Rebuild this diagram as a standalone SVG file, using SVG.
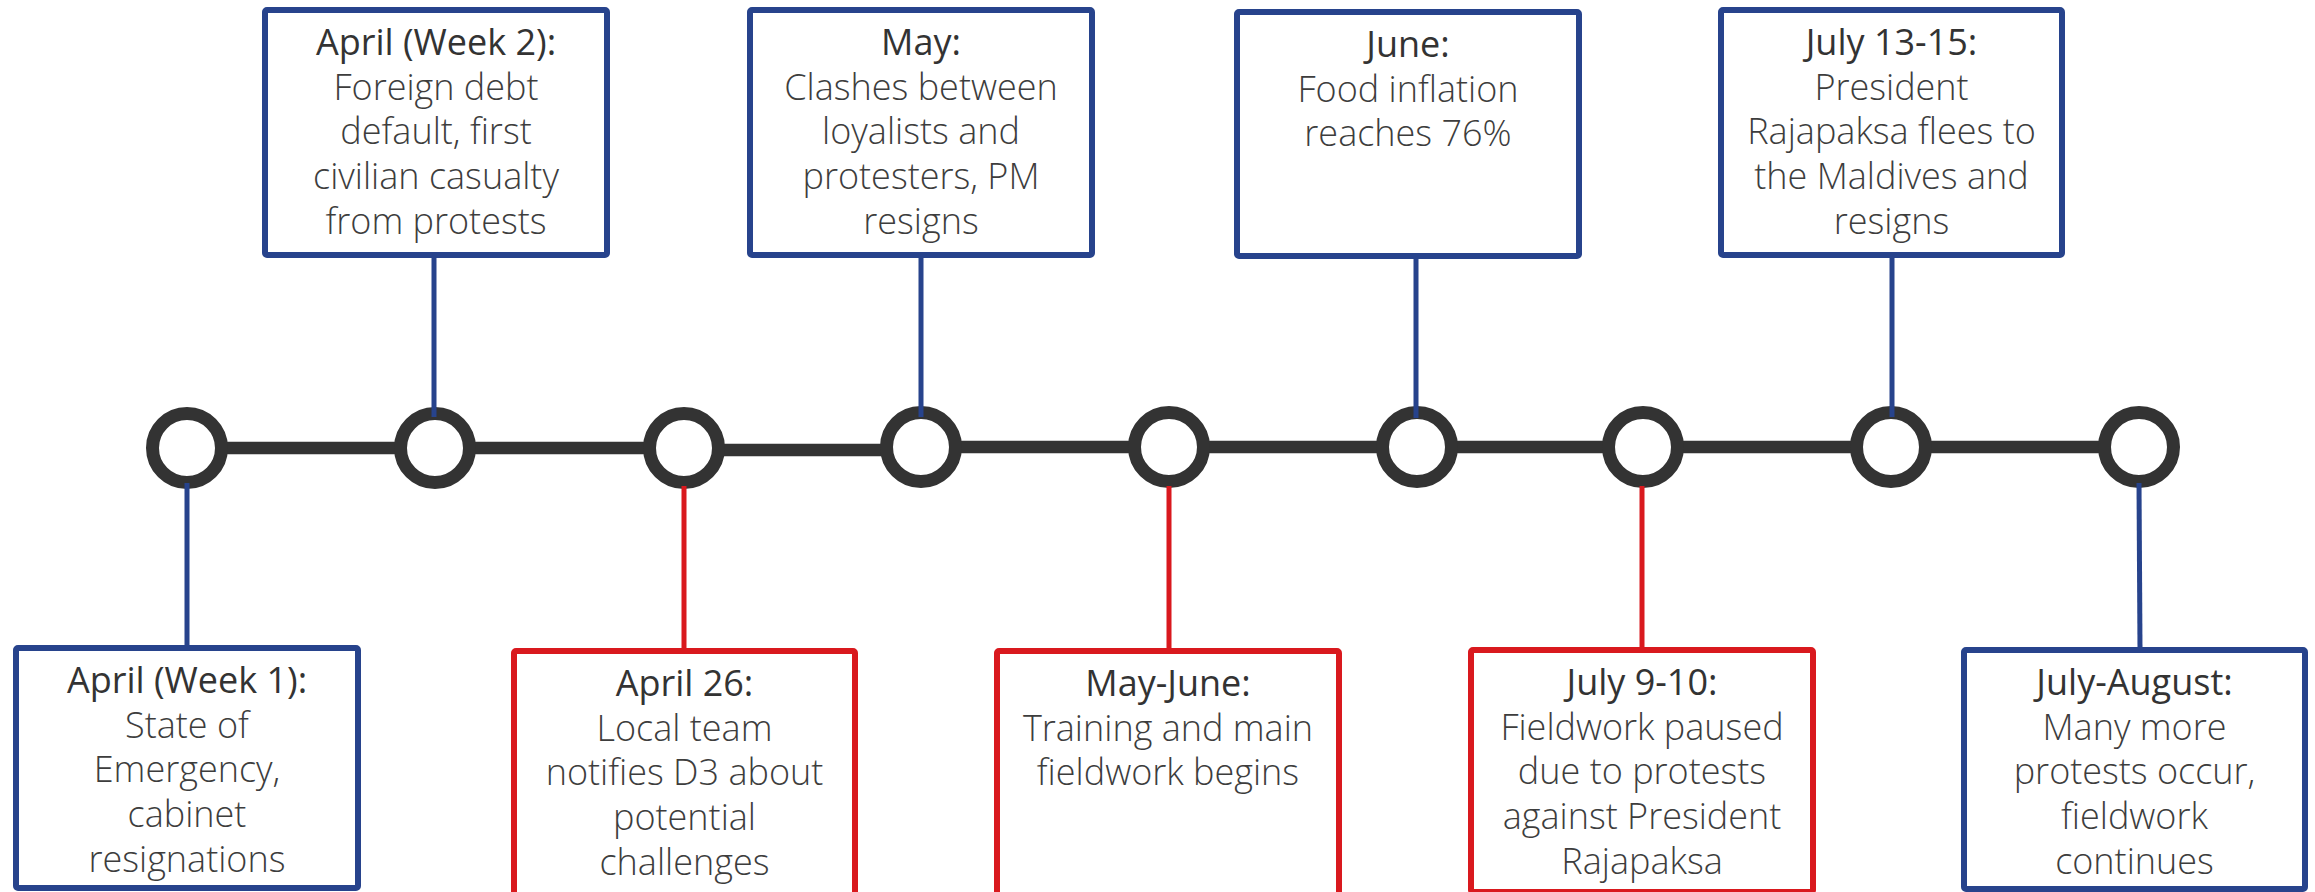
<svg xmlns="http://www.w3.org/2000/svg" width="2315" height="892" viewBox="0 0 2315 892">
<style>
.bg{fill:#ffffff}
.box{fill:#ffffff;stroke-width:6;stroke-linejoin:round}
.blue{stroke:#27438c}
.red{stroke:#d9191e}
.conn{fill:none;stroke-width:5}
.track{stroke:#333333;stroke-width:12.5;fill:none}
.dot{fill:#ffffff;stroke:#333333;stroke-width:13}
text{font-family:"Open Sans","Liberation Sans",sans-serif;font-size:36px;text-anchor:middle;fill:#3d3d3d;font-weight:300}
.t{fill:#333333;font-weight:400}
</style>
<rect class="bg" x="0" y="0" width="2315" height="892"/>

<g id="timeline">
<line class="track" x1="187" y1="448" x2="435" y2="448"/>
<line class="track" x1="435" y1="448" x2="684" y2="448"/>
<line class="track" x1="684" y1="450" x2="921" y2="450"/>
<line class="track" x1="921" y1="447" x2="2139" y2="447"/>
<circle class="dot" cx="187" cy="448" r="34.5"/>
<circle class="dot" cx="435" cy="448" r="34.5"/>
<circle class="dot" cx="684" cy="448" r="34.5"/>
<circle class="dot" cx="921" cy="447" r="34.5"/>
<circle class="dot" cx="1169" cy="447" r="34.5"/>
<circle class="dot" cx="1417" cy="447" r="34.5"/>
<circle class="dot" cx="1643" cy="447" r="34.5"/>
<circle class="dot" cx="1891" cy="447" r="34.5"/>
<circle class="dot" cx="2139" cy="447" r="34.5"/>
</g>

<g id="connectors">
<line class="conn blue" x1="187" y1="483" x2="187" y2="646"/>
<line class="conn blue" x1="434" y1="257" x2="434" y2="417"/>
<line class="conn red" x1="684" y1="486" x2="684" y2="649"/>
<line class="conn blue" x1="921" y1="257" x2="921" y2="417"/>
<line class="conn red" x1="1169" y1="486" x2="1169" y2="649"/>
<line class="conn blue" x1="1416" y1="258" x2="1416" y2="418"/>
<line class="conn red" x1="1642" y1="486" x2="1642" y2="648"/>
<line class="conn blue" x1="1892" y1="257" x2="1892" y2="417"/>
<line class="conn blue" x1="2139" y1="483" x2="2140" y2="648"/>
</g>

<g id="node-april-week1">
<rect class="box blue" x="16" y="648" width="342" height="240" rx="2"/>
<text x="187" y="693"><tspan class="t">April (Week 1):</tspan><tspan x="187" dy="44.7">State of</tspan><tspan x="187" dy="44.7">Emergency,</tspan><tspan x="187" dy="44.7">cabinet</tspan><tspan x="187" dy="44.7">resignations</tspan></text>
</g>

<g id="node-april-week2">
<rect class="box blue" x="265" y="10" width="342" height="245" rx="2"/>
<text x="436" y="55"><tspan class="t">April (Week 2):</tspan><tspan x="436" dy="44.7">Foreign debt</tspan><tspan x="436" dy="44.7">default, first</tspan><tspan x="436" dy="44.7">civilian casualty</tspan><tspan x="436" dy="44.7">from protests</tspan></text>
</g>

<g id="node-april-26">
<rect class="box red" x="514" y="651" width="341" height="270" rx="2"/>
<text x="684.5" y="696"><tspan class="t">April 26:</tspan><tspan x="684.5" dy="44.7">Local team</tspan><tspan x="684.5" dy="44.7">notifies D3 about</tspan><tspan x="684.5" dy="44.7">potential</tspan><tspan x="684.5" dy="44.7">challenges</tspan></text>
</g>

<g id="node-may">
<rect class="box blue" x="750" y="10" width="342" height="245" rx="2"/>
<text x="921" y="55"><tspan class="t">May:</tspan><tspan x="921" dy="44.7">Clashes between</tspan><tspan x="921" dy="44.7">loyalists and</tspan><tspan x="921" dy="44.7">protesters, PM</tspan><tspan x="921" dy="44.7">resigns</tspan></text>
</g>

<g id="node-may-june">
<rect class="box red" x="997" y="651" width="342" height="270" rx="2"/>
<text x="1168" y="696"><tspan class="t">May-June:</tspan><tspan x="1168" dy="44.7">Training and main</tspan><tspan x="1168" dy="44.7">fieldwork begins</tspan></text>
</g>

<g id="node-june">
<rect class="box blue" x="1237" y="12" width="342" height="244" rx="2"/>
<text x="1408" y="57"><tspan class="t">June:</tspan><tspan x="1408" dy="44.7">Food inflation</tspan><tspan x="1408" dy="44.7">reaches 76%</tspan></text>
</g>

<g id="node-july-9-10">
<rect class="box red" x="1471" y="650" width="342" height="242" rx="2"/>
<text x="1642" y="695"><tspan class="t">July 9-10:</tspan><tspan x="1642" dy="44.7">Fieldwork paused</tspan><tspan x="1642" dy="44.7">due to protests</tspan><tspan x="1642" dy="44.7">against President</tspan><tspan x="1642" dy="44.7">Rajapaksa</tspan></text>
</g>

<g id="node-july-13-15">
<rect class="box blue" x="1721" y="10" width="341" height="245" rx="2"/>
<text x="1891.5" y="55"><tspan class="t">July 13-15:</tspan><tspan x="1891.5" dy="44.7">President</tspan><tspan x="1891.5" dy="44.7">Rajapaksa flees to</tspan><tspan x="1891.5" dy="44.7">the Maldives and</tspan><tspan x="1891.5" dy="44.7">resigns</tspan></text>
</g>

<g id="node-july-august">
<rect class="box blue" x="1964" y="650" width="341" height="239" rx="2"/>
<text x="2134.5" y="695"><tspan class="t">July-August:</tspan><tspan x="2134.5" dy="44.7">Many more</tspan><tspan x="2134.5" dy="44.7">protests occur,</tspan><tspan x="2134.5" dy="44.7">fieldwork</tspan><tspan x="2134.5" dy="44.7">continues</tspan></text>
</g>
</svg>
